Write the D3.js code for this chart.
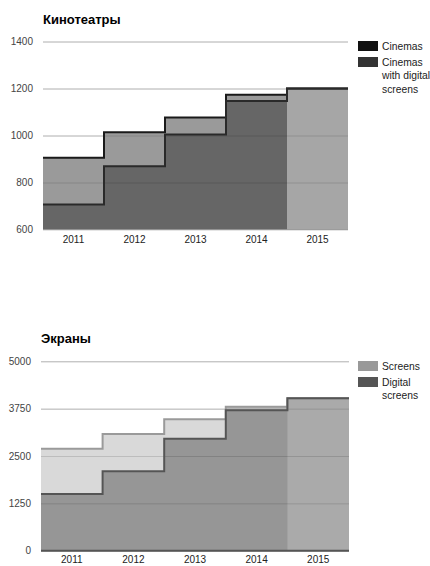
<!DOCTYPE html>
<html><head><meta charset="utf-8">
<script src="https://cdn.jsdelivr.net/npm/d3@7"></script>
<style>
html,body{margin:0;padding:0;background:#fff;}
svg{display:block;font-family:"Liberation Sans",Arial,sans-serif;}
</style></head>
<body>
<svg id="chart" width="430" height="566"></svg>
<script>
// ---- data ----
const years = ["2011","2012","2013","2014","2015"];
const cinemas = [905, 1014, 1077, 1173, 1200];
const cinemasDigital = [706, 869, 1004, 1147, 1200];
const screens = [2690, 3081, 3468, 3802, 4023];
const screensDigital = [1497, 2096, 2957, 3706, 4023];
const cinemaTicks = [600, 800, 1000, 1200, 1400];
const screenTicks = [0, 1250, 2500, 3750, 5000];
const highlightYear = "2015";

const svg = d3.select("#chart");

function drawChart(cfg) {
  const g = svg.append("g");
  const x = d3.scaleBand().domain(years).range([cfg.x0, cfg.x1]).paddingInner(0).paddingOuter(0);
  const y = d3.scaleLinear().domain([cfg.ticks[0], cfg.ticks[cfg.ticks.length-1]]).range([cfg.yb, cfg.yt]);
  const base = cfg.ticks[0];

  function pts(vals) {
    const p = vals.map((v,i)=>[x(years[i]), v]);
    p.push([x(years[years.length-1]) + x.bandwidth(), vals[vals.length-1]]);
    return p;
  }
  const area = d3.area().curve(d3.curveStepAfter).x(d=>d[0]).y0(y(base)).y1(d=>y(d[1]));
  const line = d3.line().curve(d3.curveStepAfter).x(d=>d[0]).y(d=>y(d[1]));

  g.append("text").attr("x", cfg.x0).attr("y", cfg.titleY).attr("font-size", 13).attr("font-weight","bold")
    .attr("fill","#000").text(cfg.title);

  g.selectAll(".grid").data(cfg.ticks).enter().append("line")
    .attr("x1", cfg.x0).attr("x2", cfg.x1).attr("y1", d=>y(d)+0.5).attr("y2", d=>y(d)+0.5)
    .attr("stroke", "#ccc").attr("stroke-width", 1);

  g.append("path").attr("d", area(pts(cfg.top))).attr("fill", cfg.topFill);
  g.append("path").attr("d", area(pts(cfg.bottom))).attr("fill", cfg.bottomFill);
  const hi = years.indexOf(highlightYear);
  g.append("rect").attr("x", x(highlightYear)).attr("width", x.bandwidth())
    .attr("y", y(cfg.top[hi])).attr("height", y(base) - y(cfg.top[hi])).attr("fill", cfg.hiFill);
  if (cfg.midFill) {
    const i = years.indexOf("2014");
    g.append("rect").attr("x", x("2014")).attr("width", x.bandwidth())
      .attr("y", y(cfg.top[i])).attr("height", y(cfg.bottom[i]) - y(cfg.top[i])).attr("fill", cfg.midFill);
  }

  g.selectAll(".grid2").data(cfg.ticks.slice(1)).enter().append("line")
    .attr("x1", cfg.x0).attr("x2", cfg.x1).attr("y1", d=>y(d)+0.5).attr("y2", d=>y(d)+0.5)
    .attr("stroke", "#000").attr("stroke-opacity", 0.13).attr("stroke-width", 1);

  g.append("path").attr("d", line(pts(cfg.top))).attr("fill","none")
    .attr("stroke", cfg.topLine).attr("stroke-width", 2);
  g.append("path").attr("d", line(pts(cfg.bottom))).attr("fill","none")
    .attr("stroke", cfg.bottomLine).attr("stroke-width", 2);

  if (cfg.baseline) {
    g.append("line").attr("x1", cfg.x0).attr("x2", cfg.x1).attr("y1", y(base)).attr("y2", y(base))
      .attr("stroke", cfg.baseline).attr("stroke-width", 2);
  }

  const ya = d3.axisLeft(y).tickValues(cfg.ticks).tickSize(0).tickPadding(0).tickFormat(d3.format("d"));
  const yg = g.append("g").attr("transform", `translate(${cfg.yLabelX},0)`).call(ya);
  yg.select(".domain").remove();
  yg.selectAll("text").attr("font-size", 10).attr("fill", "#444").attr("font-family", '"Liberation Sans",Arial,sans-serif');

  const xa = d3.axisBottom(x).tickSize(0).tickPadding(0);
  const xg = g.append("g").attr("transform", `translate(0,${cfg.xLabelY})`).call(xa);
  xg.select(".domain").remove();
  xg.selectAll("text").attr("font-size", 10).attr("fill", "#222").attr("dy", "0.32em").attr("font-family", '"Liberation Sans",Arial,sans-serif');

  cfg.legend.forEach((it) => {
    g.append("rect").attr("x", 358).attr("y", it.y).attr("width", 20).attr("height", 10).attr("fill", it.color);
    it.lines.forEach((t, j) => {
      g.append("text").attr("x", 382).attr("y", it.y + 5 + j*13.5).attr("dy","0.35em")
        .attr("font-size", 10.3).attr("fill", "#222").text(t);
    });
  });
}

drawChart({
  title: "Кинотеатры", titleY: 24,
  x0: 43, x1: 348, yt: 41.5, yb: 229.5,
  ticks: cinemaTicks, top: cinemas, bottom: cinemasDigital,
  topFill: "#9a9a9a", bottomFill: "#666666", hiFill: "#a6a6a6",
  topLine: "#1a1a1a", bottomLine: "#2a2a2a",
  yLabelX: 33, xLabelY: 240,
  legend: [
    {y: 41, color: "#111111", lines: ["Cinemas"]},
    {y: 57, color: "#333333", lines: ["Cinemas", "with digital", "screens"]}
  ]
});

drawChart({
  title: "Экраны", titleY: 343,
  x0: 41, x1: 349, yt: 361.3, yb: 550.7,
  ticks: screenTicks, top: screens, bottom: screensDigital,
  topFill: "#d9d9d9", bottomFill: "#969696", hiFill: "#aaaaaa", midFill: "#bdbdbd",
  topLine: "#9a9a9a", bottomLine: "#555555", baseline: "#555555",
  yLabelX: 31, xLabelY: 560,
  legend: [
    {y: 361, color: "#999999", lines: ["Screens"]},
    {y: 377, color: "#555555", lines: ["Digital", "screens"]}
  ]
});
</script>
</body></html>
